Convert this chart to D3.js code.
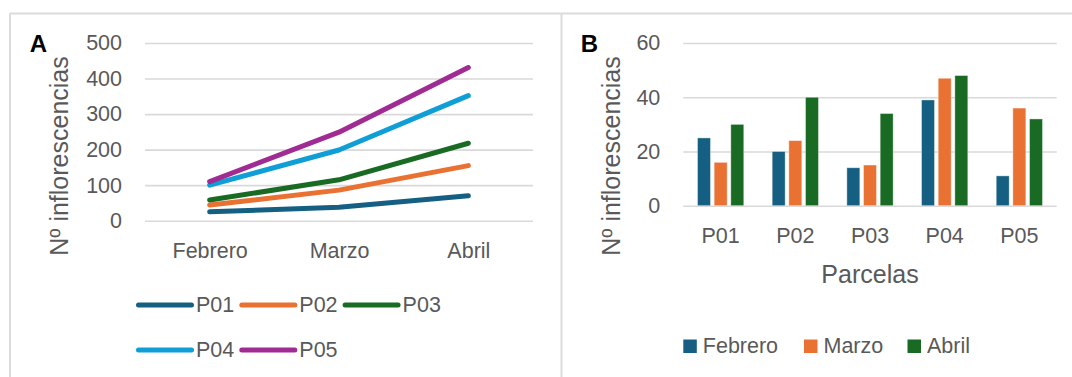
<!DOCTYPE html>
<html><head><meta charset="utf-8">
<script src="https://cdn.jsdelivr.net/npm/d3@7"></script>
<style>body{margin:0;background:#fff}svg{display:block;font-family:"Liberation Sans",Arial,sans-serif}</style>
</head><body><svg id="c" width="1072" height="377"></svg>
<script>
const months = ["Febrero","Marzo","Abril"];
const parcels = ["P01","P02","P03","P04","P05"];
// Panel A: line series (per parcel, values Feb/Mar/Abr)
const P01 = [25, 38, 70];
const P02 = [44, 86, 155];
const P03 = [58, 115, 218];
const P04 = [100, 199, 352];
const P05 = [110, 249, 431];
const lineTicks = [0,100,200,300,400,500];
// Panel B: bars (per month, values P01..P05)
const Febrero = [25, 20, 14, 39, 11];
const Marzo = [16, 24, 15, 47, 36];
const Abril = [30, 40, 34, 48, 32];
const barTicks = [0,20,40,60];
const parcelColors = ["#156082","#E97132","#196B24","#0F9ED5","#A02B93"];
const monthColors = ["#156082","#E97132","#196B24"];
const yTitle = "Nº inflorescencias";
const xTitleB = "Parcelas";

const svg = d3.select("#c");
const txt = "#595959", grid = "#d9d9d9";
const tickFS = 21.5, titleFS = 25;

// frame lines
svg.append("line").attr("x1",10).attr("x2",1072).attr("y1",13.5).attr("y2",13.5).attr("stroke","#dcdcdc").attr("stroke-width",2);
svg.append("line").attr("x1",10).attr("x2",10).attr("y1",13).attr("y2",377).attr("stroke","#dcdcdc").attr("stroke-width",2);
svg.append("line").attr("x1",561.5).attr("x2",561.5).attr("y1",13).attr("y2",377).attr("stroke","#dcdcdc").attr("stroke-width",2);

// ---------- Panel A ----------
const xA = d3.scalePoint().domain(months).range([145,533]).padding(0.5);
const yA = d3.scaleLinear().domain([0,500]).range([220.7,43]);
const gA = svg.append("g");
const axA = gA.append("g").attr("transform","translate(145,0)")
  .call(d3.axisLeft(yA).tickValues(lineTicks).tickSize(-388).tickPadding(23));
axA.select(".domain").remove();
axA.selectAll(".tick line").attr("stroke",grid).attr("stroke-width",1.6);
axA.selectAll(".tick text").attr("fill",txt).attr("font-size",tickFS).attr("font-family","Liberation Sans, Arial, sans-serif");
const axAx = gA.append("g").attr("transform","translate(0,220.7)")
  .call(d3.axisBottom(xA).tickSize(0).tickPadding(22));
axAx.select(".domain").remove();
axAx.selectAll(".tick text").attr("fill",txt).attr("font-size",tickFS).attr("font-family","Liberation Sans, Arial, sans-serif");

const seriesA = [P01,P02,P03,P04,P05];
const line = d3.line().x((d,i)=>xA(months[i])).y(d=>yA(d));
seriesA.forEach((s,k)=>{
  gA.append("path").attr("d",line(s)).attr("fill","none").attr("stroke",parcelColors[k])
    .attr("stroke-width",5).attr("stroke-linecap","round").attr("stroke-linejoin","round");
});
gA.append("text").attr("transform","translate(68,156) rotate(-90)").attr("text-anchor","middle")
  .attr("fill",txt).attr("font-size",titleFS).text(yTitle);
gA.append("text").attr("x",38.5).attr("y",51.5).attr("text-anchor","middle").attr("font-weight","bold")
  .attr("font-size",24).attr("fill","#000").text("A");
// legend A
parcels.forEach((p,k)=>{
  const col = k%3, row = Math.floor(k/3);
  const x0 = 138.5 + col*103.3, yy = 305 + row*45;
  gA.append("line").attr("x1",x0).attr("x2",x0+53).attr("y1",yy).attr("y2",yy)
    .attr("stroke",parcelColors[k]).attr("stroke-width",5).attr("stroke-linecap","round");
  gA.append("text").attr("x",x0+57.5).attr("y",yy+7).attr("fill",txt).attr("font-size",tickFS).text(p);
});

// ---------- Panel B ----------
const xB = d3.scaleBand().domain(parcels).range([683.3,1056.7]).paddingInner(0.38).paddingOuter(0.19);
const xM = d3.scaleBand().domain(months).range([0,xB.bandwidth()]).paddingInner(0.22).paddingOuter(0);
const yB = d3.scaleLinear().domain([0,60]).range([205.7,43]);
const gB = svg.append("g");
const axB = gB.append("g").attr("transform","translate(683.3,0)")
  .call(d3.axisLeft(yB).tickValues(barTicks).tickSize(-373.4).tickPadding(23));
axB.select(".domain").remove();
axB.selectAll(".tick line").attr("stroke",grid).attr("stroke-width",1.6);
axB.selectAll(".tick text").attr("fill",txt).attr("font-size",tickFS).attr("font-family","Liberation Sans, Arial, sans-serif");
const barSeries = [Febrero, Marzo, Abril];
barSeries.forEach((s,m)=>{
  gB.selectAll(null).data(s).enter().append("rect")
    .attr("x",(d,i)=>xB(parcels[i])+xM(months[m]))
    .attr("y",d=>yB(d)).attr("width",xM.bandwidth()).attr("height",d=>yB(0)-yB(d))
    .attr("fill",monthColors[m]).attr("stroke","#ffffff").attr("stroke-opacity",0.5).attr("stroke-width",0.8);
});
const axBx = gB.append("g").attr("transform","translate(0,205.7)")
  .call(d3.axisBottom(xB).tickSize(0).tickPadding(22.5));
axBx.select(".domain").remove();
axBx.selectAll(".tick text").attr("fill",txt).attr("font-size",tickFS).attr("font-family","Liberation Sans, Arial, sans-serif");
gB.append("text").attr("transform","translate(620,156) rotate(-90)").attr("text-anchor","middle")
  .attr("fill",txt).attr("font-size",titleFS).text(yTitle);
gB.append("text").attr("x",870).attr("y",283).attr("text-anchor","middle")
  .attr("fill",txt).attr("font-size",titleFS).text(xTitleB);
gB.append("text").attr("x",589.5).attr("y",51.5).attr("text-anchor","middle").attr("font-weight","bold")
  .attr("font-size",24).attr("fill","#000").text("B");
// legend B
const legBx = [683.3, 804, 907.5];
months.forEach((m,k)=>{
  gB.append("rect").attr("x",legBx[k]).attr("y",339.5).attr("width",13.5).attr("height",13.5).attr("fill",monthColors[k]);
  gB.append("text").attr("x",legBx[k]+19.5).attr("y",353).attr("fill",txt).attr("font-size",tickFS).text(m);
});
</script></body></html>
